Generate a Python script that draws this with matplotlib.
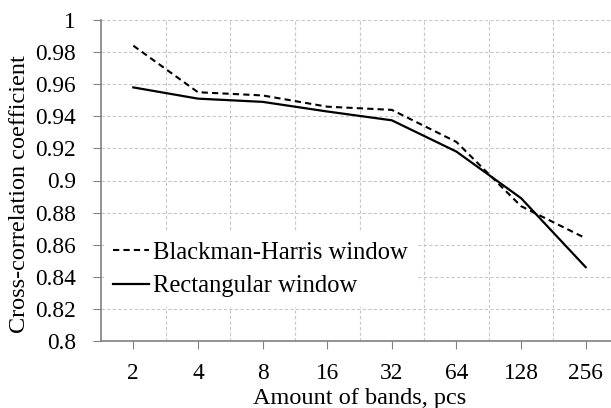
import matplotlib
matplotlib.use("Agg")
import matplotlib.pyplot as plt

plt.rcParams['font.family'] = ['Liberation Serif', 'DejaVu Serif']

bands = ["2", "4", "8", "16", "32", "64", "128", "256"]
blackman = [0.984, 0.955, 0.953, 0.946, 0.944, 0.924, 0.884, 0.864]
rect = [0.958, 0.951, 0.949, 0.943, 0.9375, 0.918, 0.889, 0.846]
yticks = [0.8, 0.82, 0.84, 0.86, 0.88, 0.9, 0.92, 0.94, 0.96, 0.98, 1.0]
ylabels = ["0.8", "0.82", "0.84", "0.86", "0.88", "0.9", "0.92", "0.94", "0.96", "0.98", "1"]

fig = plt.figure(figsize=(6.11, 4.08), dpi=100)
ax = fig.add_axes([101 / 611, 67 / 408, 517 / 611, 321 / 408])

x = range(len(bands))
ax.plot(x, blackman, color="black", lw=1.5, ls=(0, (3, 2)), label="Blackman-Harris window", zorder=3)
ax.plot(x, rect, color="black", lw=1.6, label="Rectangular window", zorder=3)

ax.set_xlim(-0.5, len(bands) - 0.5)
ax.set_ylim(0.8, 1.0)
ax.set_xticks(list(x))
ax.set_xticklabels(bands)
ax.set_xticks([i + 0.5 for i in range(len(bands) - 1)], minor=True)
ax.set_yticks(yticks)
ax.set_yticklabels(ylabels)

ax.grid(False)
ax.grid(True, axis="y", which="major", color="#c8c8c8", ls=(0, (3, 2)), lw=0.8)
ax.grid(True, axis="x", which="minor", color="#c8c8c8", ls=(0, (3, 2)), lw=0.8)
ax.tick_params(axis="x", which="minor", length=0)
ax.tick_params(which="major", direction="out", length=6, color="#808080", labelsize=16.8, pad=10)
ax.tick_params(axis="y", pad=12)

for s in ["top", "right"]:
    ax.spines[s].set_visible(False)
for s in ["left", "bottom"]:
    ax.spines[s].set_color("#808080")
    ax.spines[s].set_linewidth(1.2)

ax.set_xlabel("Amount of bands, pcs", fontsize=17.5, labelpad=3)
ax.set_ylabel("Cross-correlation coefficient", fontsize=17.5)
ax.yaxis.set_label_coords(-0.137, 0.458)

leg = ax.legend(loc="lower left", bbox_to_anchor=(0.005, 0.105), frameon=True, fontsize=17.7,
                handlelength=1.45, handletextpad=0.16, borderaxespad=0, labelspacing=0.47)
leg.get_frame().set_edgecolor("none")
leg.get_frame().set_facecolor("white")
leg.get_frame().set_alpha(1)

fig.savefig("out.png", dpi=100)
